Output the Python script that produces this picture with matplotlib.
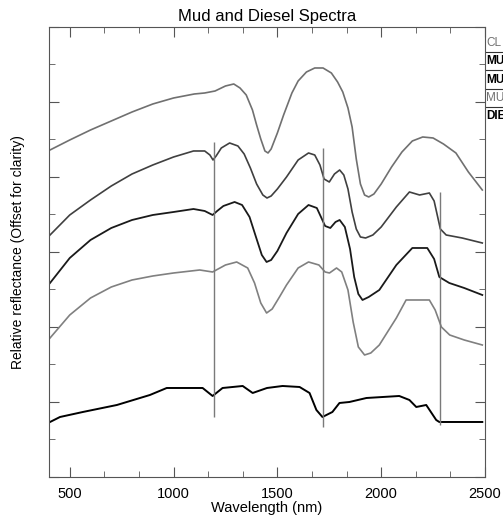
import matplotlib
matplotlib.use("Agg")
import matplotlib.pyplot as plt
import matplotlib.lines as ln
from matplotlib.ticker import MultipleLocator

plt.rcParams['font.family'] = ['Liberation Sans', 'DejaVu Sans']

# spectra, already offset for clarity (arbitrary units)
wl_cl = [405, 500, 600, 700, 800, 900, 1000, 1100, 1150, 1200, 1250, 1290, 1320, 1350,
         1380, 1400, 1420, 1440, 1455, 1470, 1500, 1530, 1570, 1600, 1640, 1680, 1720,
         1760, 1790, 1815, 1840, 1860, 1880, 1900, 1920, 1940, 1965, 2000, 2050, 2100,
         2150, 2200, 2250, 2300, 2360, 2420, 2487]
r_cl = [327, 337, 347, 356, 365, 373, 379, 383, 384, 386, 391, 393, 389, 382,
        367, 352, 338, 326, 324, 328, 344, 362, 384, 396, 405, 409, 409,
        404, 395, 385, 369, 350, 318, 293, 282, 280, 283, 293, 310, 325,
        336, 340, 339, 333, 324, 305, 287]

wl_mu1 = [405, 500, 600, 700, 800, 900, 1000, 1096, 1150, 1175, 1190, 1205, 1230, 1270,
          1310, 1340, 1370, 1400, 1430, 1450, 1470, 1500, 1544, 1600, 1650, 1680, 1705,
          1725, 1750, 1775, 1800, 1820, 1840, 1860, 1880, 1900, 1925, 1960, 2000, 2073,
          2136, 2185, 2232, 2255, 2270, 2285, 2313, 2390, 2487]
r_mu1 = [242, 262, 277, 291, 303, 312, 320, 326, 326, 322, 317, 321, 329, 334,
         331, 323, 309, 293, 282, 279, 281, 288, 300, 317, 324, 322, 312,
         298, 295, 303, 307, 302, 288, 265, 248, 240, 239, 242, 250, 270,
         285, 282, 284, 276, 262, 248, 242, 239, 234]

wl_mu2 = [405, 500, 600, 700, 800, 900, 1000, 1096, 1150, 1188, 1210, 1240, 1294, 1330,
          1366, 1400, 1425, 1448, 1470, 1500, 1544, 1600, 1650, 1690, 1710, 1730, 1755,
          1780, 1800, 1825, 1850, 1870, 1890, 1910, 1940, 1991, 2073, 2150, 2222, 2255,
          2280, 2328, 2400, 2487]
r_mu2 = [194, 219, 237, 249, 257, 262, 265, 268, 266, 262, 266, 271, 275, 272,
         260, 238, 222, 215, 217, 226, 244, 263, 272, 269, 260, 251, 249,
         255, 257, 250, 228, 200, 183, 177, 180, 187, 212, 229, 229, 218,
         200, 194, 189, 182]

wl_mu3 = [405, 500, 600, 700, 800, 900, 1000, 1126, 1188, 1250, 1304, 1357, 1390, 1420,
          1448, 1475, 1510, 1544, 1600, 1650, 1700, 1730, 1751, 1785, 1810, 1840, 1865,
          1890, 1920, 1950, 1991, 2073, 2120, 2232, 2260, 2290, 2330, 2400, 2487]
r_mu3 = [139, 162, 179, 190, 197, 201, 204, 207, 205, 212, 215, 209, 194, 174,
         164, 168, 180, 192, 209, 215, 212, 205, 204, 209, 205, 187, 155,
         130, 122, 124, 132, 159, 177, 177, 167, 150, 142, 137, 132]

wl_die = [405, 453, 563, 727, 886, 967, 1140, 1188, 1236, 1333, 1381, 1450, 1525, 1607,
          1655, 1688, 1717, 1765, 1799, 1847, 1929, 2087, 2136, 2169, 2217, 2265, 2280, 2487]
r_die = [55, 60, 65, 72, 82, 89, 89, 81, 89, 91, 84, 89, 91, 90,
         84, 67, 60, 65, 74, 75, 79, 81, 77, 70, 72, 57, 55, 55]

# diesel absorption features
feat_wl = [1195, 1720, 2283]
feat_top = [335, 329, 285]
feat_bot = [60, 50, 52]

legend_names = ['CL', 'MU', 'MU', 'MU', 'DIE']

fig = plt.figure(figsize=(5.03, 5.16), dpi=100)
ax = fig.add_axes([0.0974, 0.0756, 0.8668, 0.8721])

ax.plot(wl_cl, r_cl, color='#707070', lw=1.2)
ax.plot(wl_mu1, r_mu1, color='#404040', lw=1.2)
ax.plot(wl_mu2, r_mu2, color='#1a1a1a', lw=1.3)
ax.plot(wl_mu3, r_mu3, color='#808080', lw=1.2)
ax.plot(wl_die, r_die, color='black', lw=1.4)
ax.vlines(feat_wl, feat_bot, feat_top, color='#7a7a7a', lw=1.0)

ax.set_xlim(400, 2500)
ax.set_ylim(0, 450)
ax.xaxis.set_major_locator(MultipleLocator(500))
ax.xaxis.set_minor_locator(MultipleLocator(500 / 3))
ax.yaxis.set_major_locator(MultipleLocator(75))
ax.yaxis.set_minor_locator(MultipleLocator(37.5))
ax.tick_params(which='both', direction='in', top=True, right=True, color='#555555')
ax.tick_params(which='major', length=7, labelsize=10.5, pad=7)
ax.tick_params(which='minor', length=4)
ax.set_yticklabels([])
for s in ax.spines.values():
    s.set_color('#555555')

ax.set_title('Mud and Diesel Spectra', fontsize=12, pad=4)
ax.set_xlabel('Wavelength (nm)', fontsize=10.5, labelpad=0)
ax.set_ylabel('Relative reflectance (Offset for clarity)', fontsize=10, labelpad=10)

# legend cut off at the right edge of the figure
styles = [('normal', '#707070'), ('bold', 'black'), ('bold', 'black'),
          ('normal', '#707070'), ('bold', 'black')]
for i, name in enumerate(legend_names):
    ypix = 43 + i * 18.3
    fig.text(486 / 503, 1 - ypix / 516, name, fontsize=8.5, weight=styles[i][0],
             color=styles[i][1], va='center', ha='left')
    if i < 4:
        yl = 1 - (ypix + 9) / 516
        fig.add_artist(ln.Line2D([486 / 503, 1.0], [yl, yl], color='#333333', lw=0.8))

fig.savefig('out.png', dpi=100)
